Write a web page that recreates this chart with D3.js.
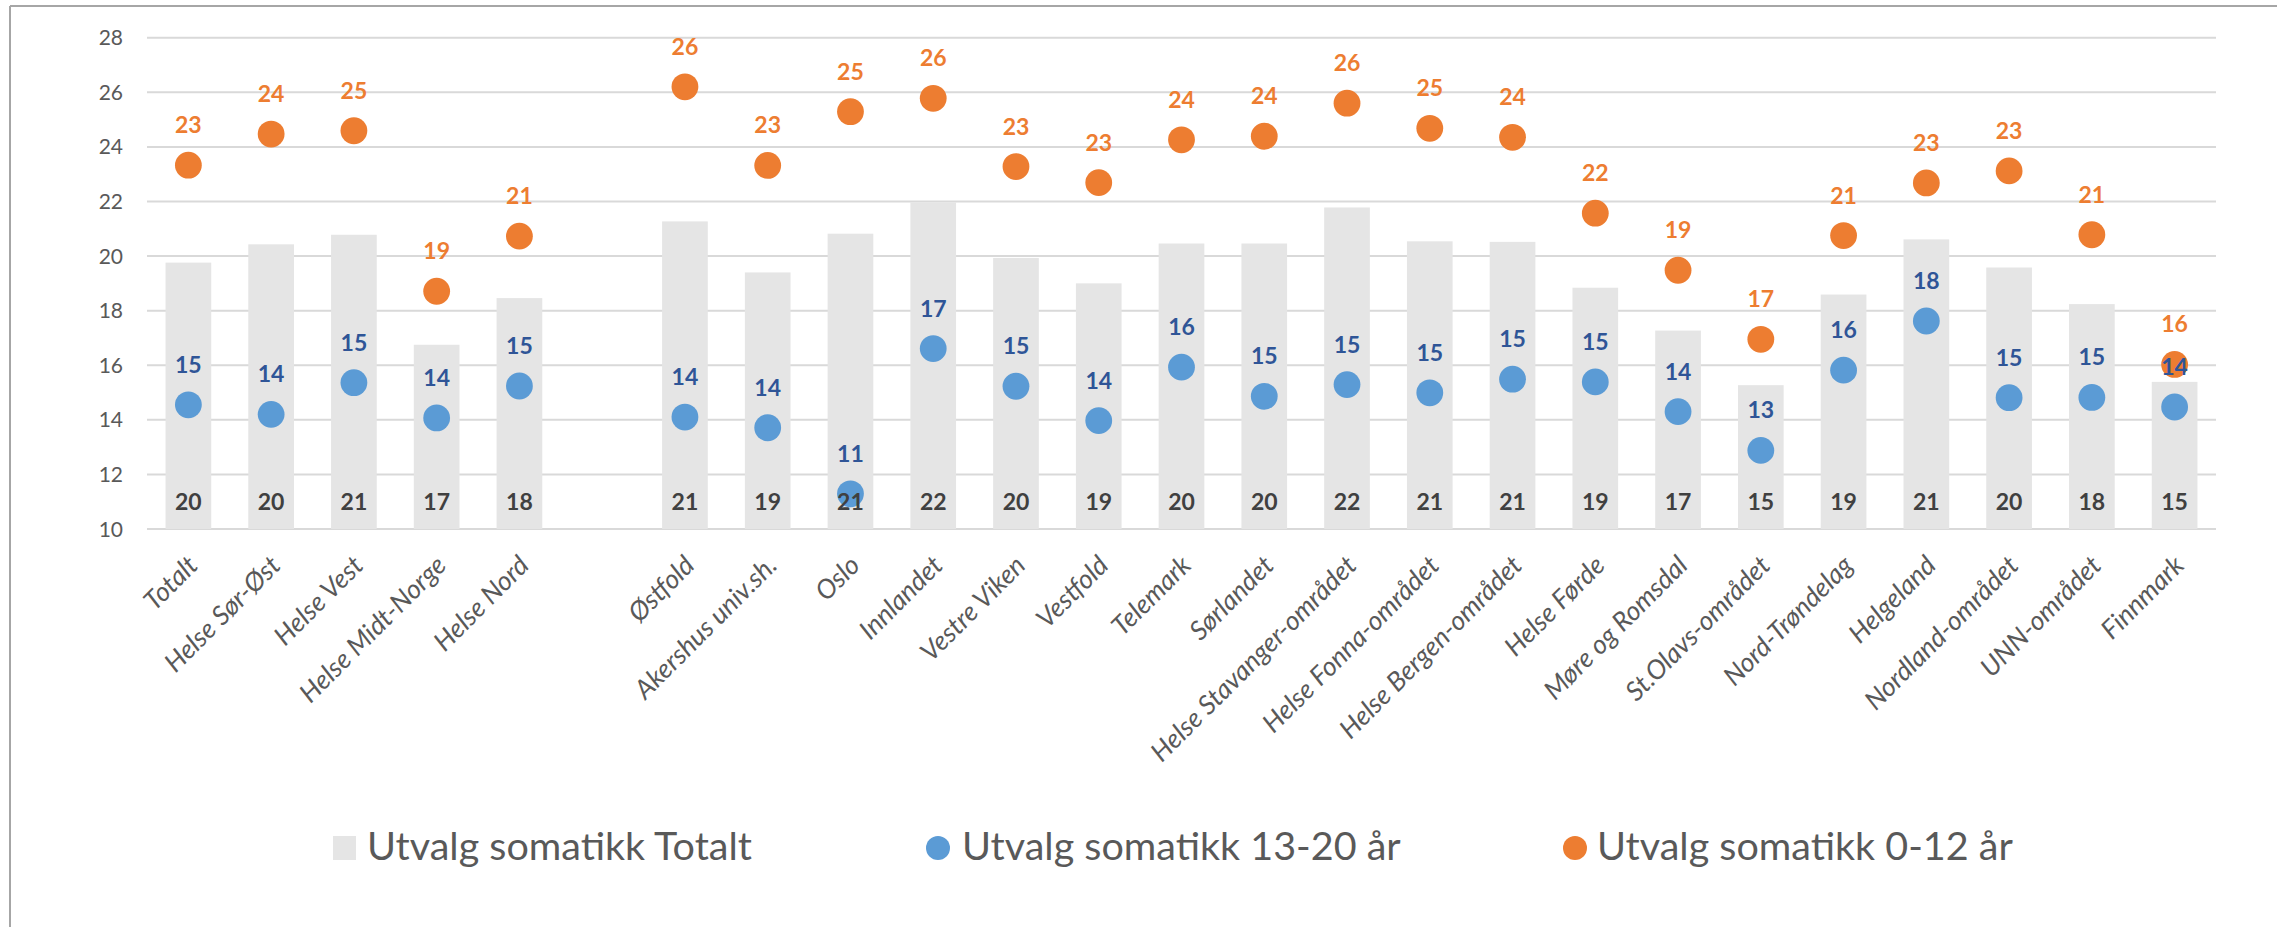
<!DOCTYPE html>
<meta charset="utf-8">
<title>Utvalg somatikk</title>
<style>
body { margin: 0; background: #fff; }
text { font-family: Lato, "Open Sans", sans-serif; }
.grid line { stroke: #d9d9d9; stroke-width: 2; }
.ytick { fill: #595959; font-size: 21px; }
.xlab { fill: #595959; font-size: 26.5px; font-style: italic; }
.lab { font-size: 23px; font-weight: bold; }
.legend text { fill: #595959; font-size: 39.5px; }
</style>

<svg width="2277" height="927"></svg>
<script src="https://cdn.jsdelivr.net/npm/d3@7"></script>
<script>

// categories (blank slot between the regions and the hospital areas)
var categories = ["Totalt", "Helse Sør-Øst", "Helse Vest", "Helse Midt-Norge", "Helse Nord", "",
  "Østfold", "Akershus univ.sh.", "Oslo", "Innlandet", "Vestre Viken", "Vestfold", "Telemark",
  "Sørlandet", "Helse Stavanger-området", "Helse Fonna-området", "Helse Bergen-området",
  "Helse Førde", "Møre og Romsdal", "St.Olavs-området", "Nord-Trøndelag", "Helgeland",
  "Nordland-området", "UNN-området", "Finnmark"];

var totalt = [19.76, 20.43, 20.78, 16.75, 18.46, null, 21.27, 19.40, 20.82, 21.97, 19.93, 19.00, 20.46,
  20.46, 21.78, 20.54, 20.52, 18.84, 17.27, 15.27, 18.59, 20.61, 19.58, 18.24, 15.39];

var aar13_20 = [14.55, 14.20, 15.36, 14.07, 15.24, null, 14.10, 13.71, 11.29, 16.61, 15.23, 13.97, 15.93,
  14.86, 15.29, 14.99, 15.49, 15.39, 14.30, 12.88, 15.82, 17.62, 14.81, 14.82, 14.47];

var aar0_12 = [23.33, 24.47, 24.59, 18.71, 20.73, null, 26.20, 23.32, 25.29, 25.78, 23.28, 22.69, 24.26,
  24.39, 25.60, 24.68, 24.35, 21.57, 19.48, 16.95, 20.75, 22.68, 23.12, 20.78, 16.03];

var yTicks = [10, 12, 14, 16, 18, 20, 22, 24, 26, 28];

var seriesNames = ["Utvalg somatikk Totalt", "Utvalg somatikk 13-20 år", "Utvalg somatikk 0-12 år"];

var svg = d3.select("svg");

var x = d3.scaleBand()
    .domain(d3.range(categories.length))
    .range([147, 2216])
    .paddingInner(0.448)
    .paddingOuter(0.224);

var y = d3.scaleLinear()
    .domain([10, 28])
    .range([529, 37.7]);

var cx = function(i) { return x(i) + x.bandwidth() / 2; };
var idx = d3.range(categories.length);
var fmt = d3.format(".0f");

//frame (only top and left edge are inside the picture)
svg.append("line").attr("x1", 10).attr("x2", 2277).attr("y1", 6).attr("y2", 6)
    .attr("stroke", "#a6a6a6").attr("stroke-width", 2);
svg.append("line").attr("x1", 10).attr("x2", 10).attr("y1", 6).attr("y2", 927)
    .attr("stroke", "#a6a6a6").attr("stroke-width", 2);

//gridlines
svg.append("g")
    .attr("class", "grid")
  .selectAll("line")
  .data(yTicks)
  .enter().append("line")
    .attr("x1", 147).attr("x2", 2216)
    .attr("y1", function(d) { return y(d); })
    .attr("y2", function(d) { return y(d); });

svg.append("g")
  .selectAll("text")
  .data(yTicks)
  .enter().append("text")
    .attr("class", "ytick")
    .attr("x", 123)
    .attr("y", function(d) { return y(d); })
    .attr("dy", "0.36em")
    .attr("text-anchor", "end")
    .text(function(d) { return d; });

//bars
svg.append("g")
  .selectAll("rect")
  .data(idx.filter(function(i) { return totalt[i] != null; }))
  .enter().append("rect")
    .attr("x", function(i) { return x(i); })
    .attr("width", x.bandwidth())
    .attr("y", function(i) { return y(totalt[i]); })
    .attr("height", function(i) { return y(10) - y(totalt[i]); })
    .attr("fill", "#e5e5e5");

//dots
function dots(values, color) {
  svg.append("g")
    .selectAll("circle")
    .data(idx.filter(function(i) { return values[i] != null; }))
    .enter().append("circle")
      .attr("cx", cx)
      .attr("cy", function(i) { return y(values[i]); })
      .attr("r", 13.4)
      .attr("fill", color);
}
dots(aar13_20, "#5b9bd5");
dots(aar0_12, "#ed7d31");

//data labels
function labels(values, color, ypos) {
  svg.append("g")
    .selectAll("text")
    .data(idx.filter(function(i) { return values[i] != null; }))
    .enter().append("text")
      .attr("class", "lab")
      .attr("x", cx)
      .attr("y", ypos)
      .attr("text-anchor", "middle")
      .attr("fill", color)
      .text(function(i) { return fmt(values[i]); });
}
labels(totalt, "#404040", function() { return y(10) - 19; });
labels(aar0_12, "#ed7d31", function(i) { return y(aar0_12[i]) - 32; });
labels(aar13_20, "#2f5597", function(i) { return y(aar13_20[i]) - 32; });

//category labels
svg.append("g")
  .selectAll("text")
  .data(idx)
  .enter().append("text")
    .attr("class", "xlab")
    .attr("text-anchor", "end")
    .attr("dy", "0.75em")
    .attr("transform", function(i) { return "translate(" + (cx(i) - 3) + ",553) rotate(-45)"; })
    .text(function(i) { return categories[i]; });

//legend
var legend = svg.append("g").attr("class", "legend");
legend.append("rect")
    .attr("x", 333).attr("y", 836).attr("width", 23).attr("height", 24)
    .attr("fill", "#e5e5e5");
legend.append("circle").attr("cx", 938).attr("cy", 848).attr("r", 12).attr("fill", "#5b9bd5");
legend.append("circle").attr("cx", 1575).attr("cy", 848).attr("r", 12).attr("fill", "#ed7d31");
legend.selectAll("text")
  .data(seriesNames)
  .enter().append("text")
    .attr("x", function(d, i) { return [367, 962, 1597][i]; })
    .attr("y", 860)
    .text(function(d) { return d; });

</script>
